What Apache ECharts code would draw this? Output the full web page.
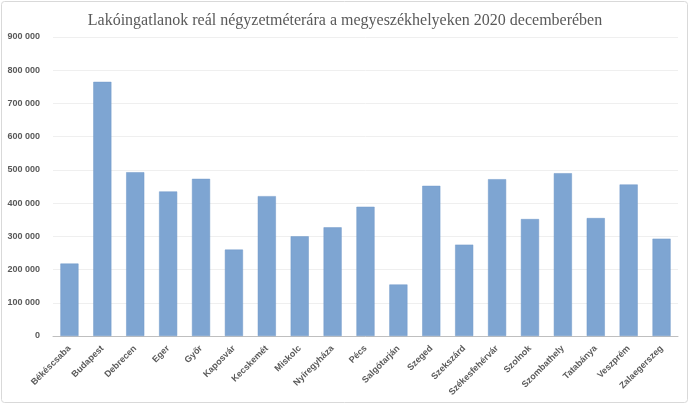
<!DOCTYPE html>
<html>
<head>
<meta charset="utf-8">
<script src="https://cdn.jsdelivr.net/npm/echarts@6/dist/echarts.min.js"></script>
<style>
html,body{margin:0;padding:0;background:#fff;}
#chart{width:690px;height:405px;}
</style>
</head>
<body>
<div id="chart"></div>
<script>
const titleText = 'Lakóingatlanok reál négyzetméterára a megyeszékhelyeken 2020 decemberében';
const cities = ['Békéscsaba','Budapest','Debrecen','Eger','Győr','Kaposvár','Kecskemét','Miskolc','Nyíregyháza','Pécs','Salgótarján','Szeged','Szekszárd','Székesfehérvár','Szolnok','Szombathely','Tatabánya','Veszprém','Zalaegerszeg'];
const prices = [218000,765000,493000,435000,473000,260000,421000,300000,327000,389000,155000,452000,275000,472000,352000,490000,355000,456000,293000];
const yMin = 0, yMax = 900000, yStep = 100000;

const chart = echarts.init(document.getElementById('chart'), null, {renderer:'canvas'});
chart.setOption({
  animation:false,
  backgroundColor:'#ffffff',
  title:{
    text:titleText,
    left:'center', top:8,
    textStyle:{fontFamily:'Liberation Serif', fontSize:16, fontWeight:'normal', color:'#595959'}
  },
  graphic:[{
    type:'rect', silent:true, z:-1,
    shape:{x:1.5,y:1.5,width:686,height:401,r:3},
    style:{fill:'none',stroke:'#d9d9d9',lineWidth:1}
  }],
  grid:{left:53, right:12, top:37, bottom:69, containLabel:false},
  xAxis:{
    type:'category', data:cities,
    axisLine:{lineStyle:{color:'#bfbfbf', width:1}},
    axisTick:{show:false},
    axisLabel:{rotate:45, interval:0, margin:11, color:'#595959', fontFamily:'Liberation Sans', fontWeight:'bold', fontSize:9}
  },
  yAxis:{
    type:'value', min:yMin, max:yMax, interval:yStep,
    axisLine:{show:false}, axisTick:{show:false},
    splitLine:{lineStyle:{color:'#efefef', width:1}},
    axisLabel:{margin:13, color:'#595959', fontFamily:'Liberation Sans', fontWeight:'bold', fontSize:9,
      formatter:v=>String(v).replace(/\B(?=(\d{3})+(?!\d))/g,' ')}
  },
  series:[{
    type:'bar', data:prices, barCategoryGap:'45%',
    itemStyle:{color:'#7ea5d2', borderColor:'#7099c9', borderWidth:0.5}
  }]
});
</script>
</body>
</html>
